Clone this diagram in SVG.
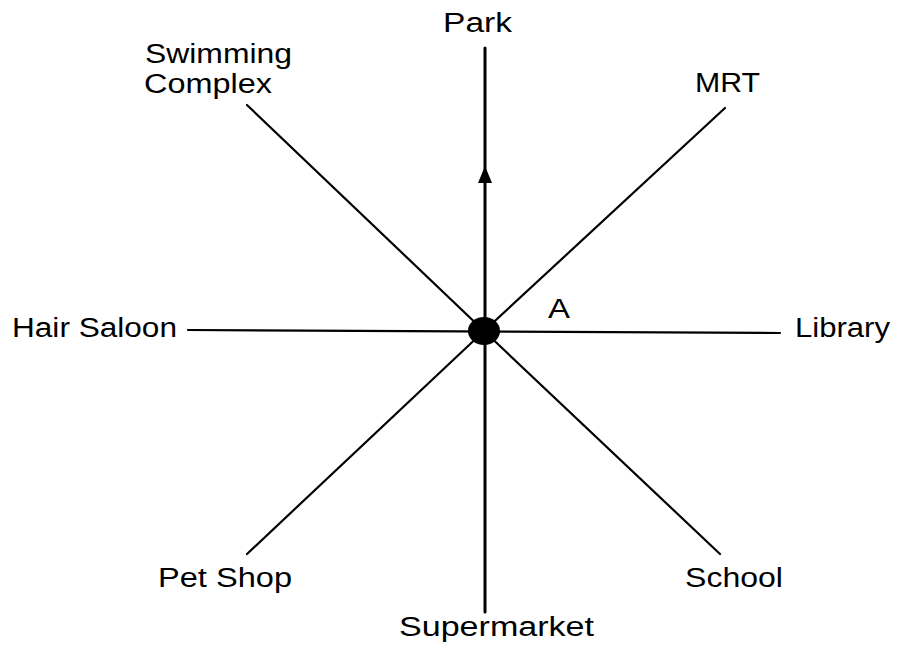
<svg xmlns="http://www.w3.org/2000/svg" width="899" height="652" viewBox="0 0 899 652">
<style>
.bg{fill:#ffffff}
.ln{stroke:#000;stroke-width:2.2;fill:none;stroke-linecap:round}
.v{stroke-width:3}
.lbl{font-family:"Liberation Sans",Arial,sans-serif;font-size:27px;fill:#000}
</style>
<rect class="bg" x="0" y="0" width="899" height="652"/>
<g id="connectors">
<line class="ln v" x1="485" y1="612" x2="485" y2="48"/>
<path id="arrowhead" d="M485 166 L492 183 L478 183 Z" fill="#000"/>
<line class="ln" x1="188" y1="330" x2="780" y2="333"/>
<line class="ln" x1="247" y1="105" x2="484" y2="331"/>
<line class="ln" x1="725" y1="108" x2="484" y2="331"/>
<line class="ln" x1="247" y1="554" x2="484" y2="331"/>
<line class="ln" x1="720" y1="554" x2="484" y2="331"/>
</g>
<g id="center"><ellipse cx="484" cy="331" rx="16" ry="14" fill="#000"/></g>
<g id="park"><text class="lbl" x="443" y="32" textLength="69" lengthAdjust="spacingAndGlyphs">Park</text></g>
<g id="swimming-complex"><text class="lbl" x="145" y="63" textLength="147" lengthAdjust="spacingAndGlyphs">Swimming</text><text class="lbl" x="144" y="93" textLength="128" lengthAdjust="spacingAndGlyphs">Complex</text></g>
<g id="mrt"><text class="lbl" x="695" y="92" textLength="65" lengthAdjust="spacingAndGlyphs">MRT</text></g>
<g id="hair-saloon"><text class="lbl" x="12" y="337" textLength="165" lengthAdjust="spacingAndGlyphs">Hair Saloon</text></g>
<g id="library"><text class="lbl" x="795" y="337" textLength="95" lengthAdjust="spacingAndGlyphs">Library</text></g>
<g id="a-label"><text class="lbl" x="548" y="318" textLength="22" lengthAdjust="spacingAndGlyphs">A</text></g>
<g id="pet-shop"><text class="lbl" x="158" y="587" textLength="134" lengthAdjust="spacingAndGlyphs">Pet Shop</text></g>
<g id="school"><text class="lbl" x="685" y="587" textLength="98" lengthAdjust="spacingAndGlyphs">School</text></g>
<g id="supermarket"><text class="lbl" x="399" y="636" textLength="195" lengthAdjust="spacingAndGlyphs">Supermarket</text></g>
</svg>
